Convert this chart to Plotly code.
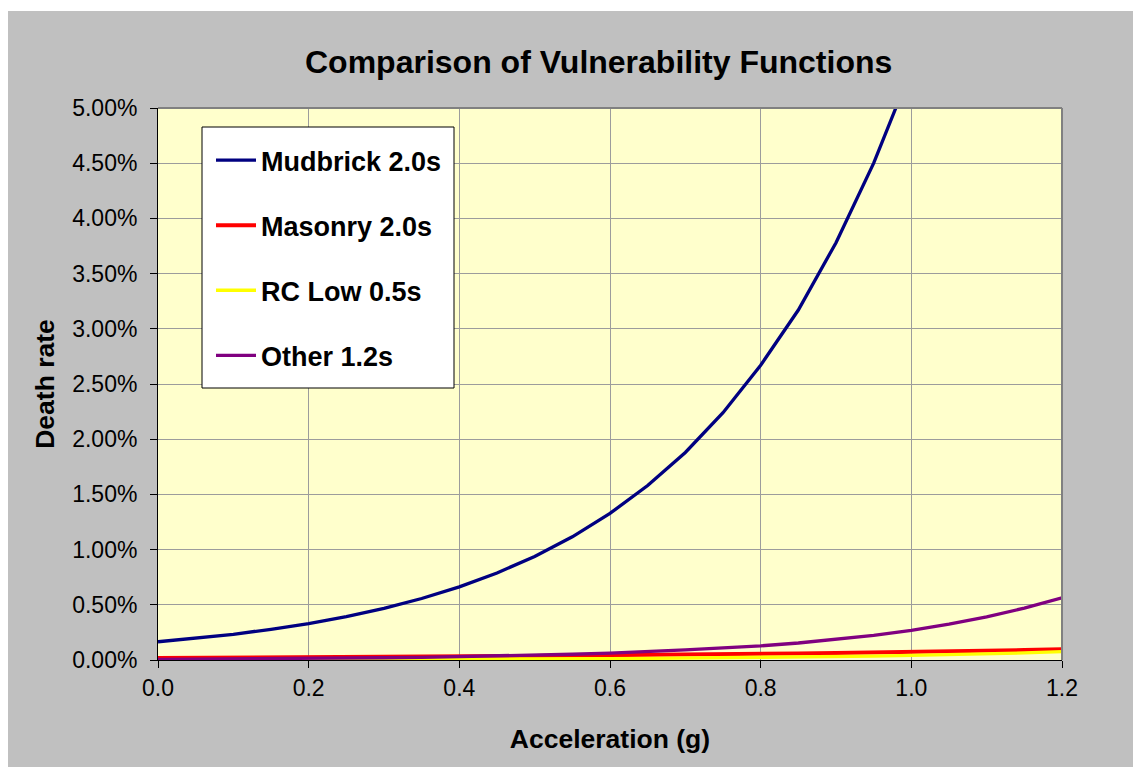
import plotly.graph_objects as go

# Peak ground acceleration (g)
accel = [0.00, 0.05, 0.10, 0.15, 0.20, 0.25, 0.30, 0.35, 0.40, 0.45, 0.50, 0.55,
         0.60, 0.65, 0.70, 0.75, 0.80, 0.85, 0.90, 0.95, 1.00, 1.05, 1.10, 1.15, 1.20]

# Death rate (%) per building class
mudbrick = [0.165, 0.196, 0.233, 0.278, 0.330, 0.393, 0.468, 0.557, 0.662, 0.788, 0.938, 1.116,
            1.328, 1.580, 1.880, 2.240, 2.670, 3.170, 3.780, 4.500, 5.350, 6.370, 7.580, 9.000, 10.700]
masonry = [0.019, 0.020, 0.022, 0.023, 0.025, 0.026, 0.028, 0.030, 0.032, 0.035, 0.037, 0.040,
           0.042, 0.045, 0.048, 0.051, 0.055, 0.059, 0.063, 0.067, 0.072, 0.077, 0.083, 0.090, 0.098]
rc_low = [0.002, 0.0023, 0.0027, 0.0032, 0.0037, 0.0043, 0.0050, 0.0058, 0.0067, 0.0078, 0.0091, 0.0106,
          0.0123, 0.0143, 0.0166, 0.0193, 0.0225, 0.0261, 0.0303, 0.0352, 0.041, 0.0476, 0.0553, 0.0643, 0.075]
other = [0.0065, 0.0079, 0.0095, 0.0115, 0.0139, 0.0168, 0.0203, 0.0245, 0.0296, 0.0357, 0.0430, 0.0520,
         0.0630, 0.0760, 0.0910, 0.1100, 0.1280, 0.1540, 0.1860, 0.2240, 0.2680, 0.3240, 0.3900, 0.4700, 0.5640]

series = [
    ("Mudbrick 2.0s", mudbrick, "#000080", 3.3),
    ("Masonry 2.0s", masonry, "#FF0000", 4),
    ("RC Low 0.5s", rc_low, "#FFFF00", 3.3),
    ("Other 1.2s", other, "#800080", 3.3),
]

x_ticks = [0.0, 0.2, 0.4, 0.6, 0.8, 1.0, 1.2]
y_ticks = [0.0, 0.5, 1.0, 1.5, 2.0, 2.5, 3.0, 3.5, 4.0, 4.5, 5.0]
y_tick_text = [f"{v:.2f}%" for v in y_ticks]

FONT = "Liberation Sans, Arial, sans-serif"

fig = go.Figure()
for i, (name, vals, color, width) in enumerate(series):
    fig.add_trace(go.Scatter(
        x=accel, y=vals, name=name, mode="lines",
        line=dict(color=color, width=width),
        legendgroup=f"g{i}",
    ))

# plot area spans 904 x 552 px; helpers to place layout items in pixels
def px_x(px):
    return (px - 158) / 904

def px_y(py):
    return (660 - py) / 552

fig.update_layout(
    width=1133, height=767,
    margin=dict(l=158, r=71, t=108, b=107),
    paper_bgcolor="#C0C0C0",
    plot_bgcolor="#FFFFCC",
    font=dict(family=FONT, size=23, color="black"),
    showlegend=True,
    legend=dict(
        x=px_x(211), y=px_y(136), xanchor="left", yanchor="top",
        bgcolor="rgba(0,0,0,0)", borderwidth=0,
        font=dict(family=FONT, size=27, color="black", weight="bold"),
        tracegroupgap=27,
        itemwidth=40,
    ),
    xaxis=dict(
        range=[0, 1.2], tickvals=x_ticks, tickformat=".1f",
        showgrid=True, gridcolor="#9C9C9C", gridwidth=1,
        showline=True, linecolor="black", linewidth=1,
        ticks="outside", ticklen=7, tickcolor="black",
        zeroline=False,
        title=dict(text="Acceleration (g)", font=dict(size=26.5, weight="bold"), standoff=29),
    ),
    yaxis=dict(
        range=[0, 5], tickvals=y_ticks, ticktext=y_tick_text,
        showgrid=True, gridcolor="#9C9C9C", gridwidth=1,
        showline=True, linecolor="black", linewidth=1,
        ticks="outside", ticklen=7, tickcolor="black",
        ticklabelstandoff=8,
        zeroline=False,
        title=dict(text="Death rate", font=dict(size=26.5, weight="bold"), standoff=9),
    ),
    shapes=[
        # white page margin on the top and left of the grey panel
        dict(type="rect", xref="paper", yref="paper", x0=px_x(-5), x1=px_x(1140), y0=px_y(11), y1=px_y(-5),
             fillcolor="white", line=dict(width=0), layer="below"),
        dict(type="rect", xref="paper", yref="paper", x0=px_x(-5), x1=px_x(8), y0=px_y(775), y1=px_y(-5),
             fillcolor="white", line=dict(width=0), layer="below"),
        # grey frame on the top and right of the plot area
        dict(type="line", xref="paper", yref="paper", x0=0, x1=1, y0=1, y1=1,
             line=dict(color="#808080", width=2), layer="above"),
        dict(type="line", xref="paper", yref="paper", x0=1, x1=1, y0=0, y1=1,
             line=dict(color="#808080", width=2), layer="above"),
        # legend box
        dict(type="rect", xref="paper", yref="paper",
             x0=px_x(202), x1=px_x(454), y0=px_y(388), y1=px_y(127),
             fillcolor="white", line=dict(color="black", width=1), layer="above"),
    ],
    annotations=[
        dict(text="<b>Comparison of Vulnerability Functions</b>", xref="paper", yref="paper",
             x=px_x(598), y=px_y(62), xanchor="center", yanchor="middle", showarrow=False,
             font=dict(family=FONT, size=32, color="black")),
    ],
)

fig.write_html("out.html")
